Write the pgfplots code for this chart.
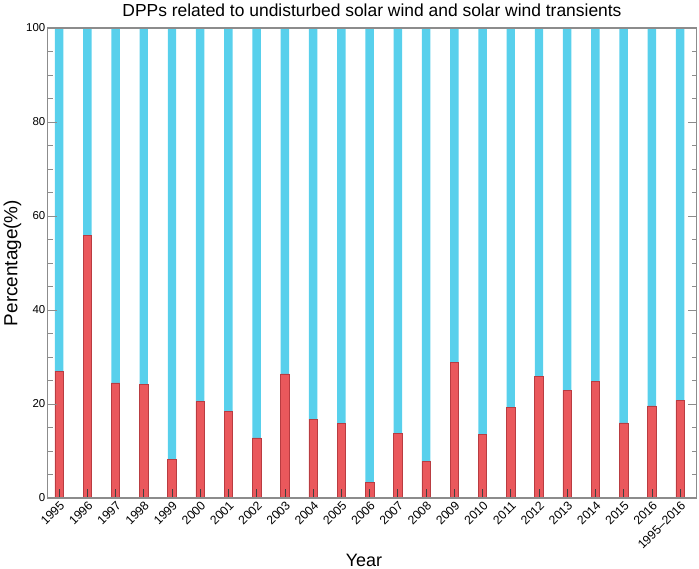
\documentclass[border=0pt]{standalone}
\usepackage{fontspec}
\setmainfont{Liberation Sans}
\usepackage{pgfplots}
\pgfplotsset{compat=1.18}
\definecolor{barred}{RGB}{234,88,92}
\definecolor{barredline}{RGB}{185,60,65}
\definecolor{barcyan}{RGB}{88,208,236}
\definecolor{axgray}{RGB}{140,140,140}
\begin{document}
\begin{tikzpicture}
\useasboundingbox (-47.5bp,-71bp) rectangle (651.5bp,498bp);
\begin{axis}[
  scale only axis,
  width=649bp, height=470bp,
  xmin=-0.41, xmax=22.58,
  ymin=0, ymax=100,
  ybar stacked,
  bar width=0.3,
  axis on top,
  axis line style={axgray, line width=1.2bp},
  xtick={0,...,22},
  xticklabels={1995,1996,1997,1998,1999,2000,2001,2002,2003,2004,2005,2006,2007,2008,2009,2010,2011,2012,2013,2014,2015,2016,1995--2016},
  xtick pos=bottom,
  x tick style={black!75, line width=0.8bp},
  ytick={0,20,40,60,80,100},
  minor y tick num=3,
  y tick style={axgray, line width=0.8bp},
  major tick length=9bp,
  minor tick length=5bp,
  tick align=inside,
  /pgf/number format/assume math mode=true,
  yticklabel style={font=\fontsize{11.5}{13}\selectfont, inner sep=2bp},
  xticklabel style={font=\fontsize{12.3}{14}\selectfont, rotate=45, anchor=north east, inner sep=1.5bp},
  title={DPPs related to undisturbed solar wind and solar wind transients},
  title style={font=\fontsize{17.5}{20}\selectfont, at={(axis description cs:0.5,1)}, anchor=base, yshift=6bp},
  xlabel={Year},
  xlabel style={font=\fontsize{18}{21}\selectfont, at={(axis description cs:0.5,0)}, anchor=base, yshift=-68bp, xshift=-8bp},
]
\addplot[fill=barred, draw=barredline, line width=0.6bp] coordinates {
(0,27.0) (1,55.8) (2,24.5) (3,24.2) (4,8.2) (5,20.5) (6,18.4) (7,12.8) (8,26.4) (9,16.8) (10,15.8) (11,3.3) (12,13.8) (13,7.8) (14,28.9) (15,13.5) (16,19.2) (17,25.8) (18,22.9) (19,24.8) (20,16.0) (21,19.6) (22,20.7)
};
\addplot[fill=barcyan, draw=none] coordinates {
(0,73.0) (1,44.2) (2,75.5) (3,75.8) (4,91.8) (5,79.5) (6,81.6) (7,87.2) (8,73.6) (9,83.2) (10,84.2) (11,96.7) (12,86.2) (13,92.2) (14,71.1) (15,86.5) (16,80.8) (17,74.2) (18,77.1) (19,75.2) (20,84.0) (21,80.4) (22,79.3)
};
\end{axis}
\node[rotate=90, anchor=center, font=\fontsize{19}{22}\selectfont] at (-35bp,235bp) {Percentage(\%)};
\end{tikzpicture}
\end{document}
